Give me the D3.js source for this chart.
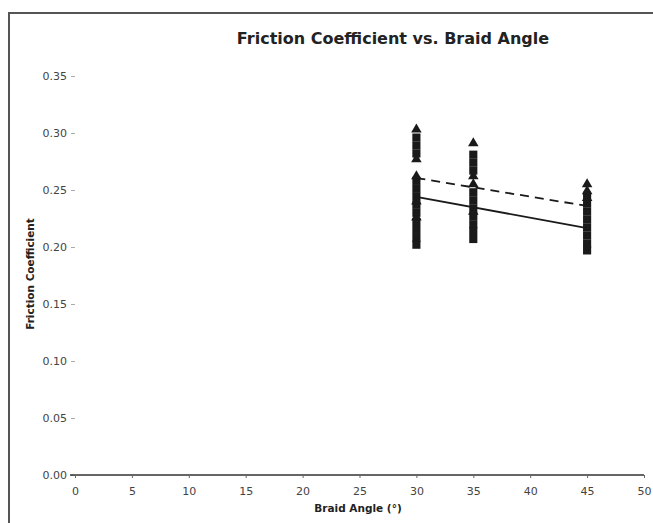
<!DOCTYPE html>
<html>
<head>
<meta charset="utf-8">
<script src="https://cdn.jsdelivr.net/npm/d3@7"></script>
<style>
  html, body { margin: 0; padding: 0; background: #fff; }
  svg { display: block; }
  text { font-family: "DejaVu Sans", Verdana, sans-serif; }
</style>
</head>
<body>
<svg id="chart" width="653" height="523"></svg>
<script>
// ---- data ----
const title = "Friction Coefficient vs. Braid Angle";
const xLabel = "Braid Angle (°)";
const yLabel = "Friction Coefficient";
const xTicks = [0, 5, 10, 15, 20, 25, 30, 35, 40, 45, 50];
const yTicks = [0.00, 0.05, 0.10, 0.15, 0.20, 0.25, 0.30, 0.35];

const angles = [30, 35, 45];
// series 1: squares (solid trendline)
const squareValues = [
  [0.296, 0.289, 0.282, 0.258, 0.251, 0.244, 0.237, 0.230, 0.222, 0.215, 0.208, 0.202],
  [0.281, 0.274, 0.267, 0.248, 0.241, 0.234, 0.227, 0.220, 0.214, 0.207],
  [0.245, 0.238, 0.231, 0.224, 0.217, 0.210, 0.203, 0.197]
];
// series 2: triangles (dashed trendline)
const triangleValues = [
  [0.303, 0.277, 0.262, 0.240, 0.226],
  [0.291, 0.262, 0.255, 0.231],
  [0.255, 0.249, 0.243]
];
// linear trendlines, values at x = 30 and x = 45
const trendX = [30, 45];
const trendSolid = [0.244, 0.2165];
const trendDashed = [0.2605, 0.236];

// ---- drawing ----
const svg = d3.select("#chart");

// outer frame
svg.append("rect")
  .attr("x", 9).attr("y", 13).attr("width", 660).attr("height", 530)
  .attr("fill", "#fff").attr("stroke", "#555").attr("stroke-width", 2);

const x = d3.scaleLinear().domain([0, 50]).range([75, 644]);
const y = d3.scaleLinear().domain([0, 0.35]).range([475, 76]);

// title
svg.append("text")
  .attr("x", 393).attr("y", 44)
  .attr("text-anchor", "middle")
  .attr("font-size", 16).attr("font-weight", "bold").attr("fill", "#222")
  .text(title);

// y axis (ticks + labels only)
const yAxis = svg.append("g")
  .attr("transform", `translate(${x(0)},0)`)
  .call(d3.axisLeft(y).tickValues(yTicks).tickFormat(d3.format(".2f")).tickSize(4).tickPadding(4));
yAxis.select(".domain").remove();
yAxis.selectAll(".tick line").attr("stroke", "#aaa");
yAxis.selectAll(".tick text").attr("font-size", 11).attr("fill", "#444")
  .attr("font-family", "DejaVu Sans, Verdana, sans-serif");

// x axis
const xAxis = svg.append("g")
  .attr("transform", `translate(0,${y(0)})`)
  .call(d3.axisBottom(x).tickValues(xTicks).tickFormat(d3.format("d")).tickSizeInner(3).tickSizeOuter(0).tickPadding(9));
xAxis.select(".domain").attr("stroke", "#333").attr("stroke-width", 1.3)
  .attr("d", `M${x(0) - 5},0H${x(50)}`);
xAxis.selectAll(".tick line").attr("stroke", "#666");
xAxis.selectAll(".tick text").attr("font-size", 11).attr("fill", "#444")
  .attr("font-family", "DejaVu Sans, Verdana, sans-serif");

// axis titles
svg.append("text")
  .attr("x", 358).attr("y", 512)
  .attr("text-anchor", "middle")
  .attr("font-size", 10.5).attr("font-weight", "bold").attr("fill", "#222")
  .text(xLabel);
svg.append("text")
  .attr("transform", `translate(34,${274}) rotate(-90)`)
  .attr("text-anchor", "middle")
  .attr("font-size", 10.5).attr("font-weight", "bold").attr("fill", "#222")
  .text(yLabel);

// points
const squares = [];
angles.forEach((a, i) => squareValues[i].forEach(v => squares.push({a, v})));
const triangles = [];
angles.forEach((a, i) => triangleValues[i].forEach(v => triangles.push({a, v})));

svg.append("g").selectAll("path")
  .data(squares).join("path")
  .attr("transform", d => `translate(${x(d.a)},${y(d.v)})`)
  .attr("d", d3.symbol(d3.symbolSquare, 66))
  .attr("fill", "#1a1a1a");

svg.append("g").selectAll("path")
  .data(triangles).join("path")
  .attr("transform", d => `translate(${x(d.a)},${y(d.v)})`)
  .attr("d", d3.symbol(d3.symbolTriangle, 48))
  .attr("fill", "#1a1a1a");

// trendlines
const line = d3.line().x(d => x(d[0])).y(d => y(d[1]));
svg.append("path")
  .attr("d", line(trendX.map((t, i) => [t, trendSolid[i]])))
  .attr("fill", "none").attr("stroke", "#1a1a1a").attr("stroke-width", 1.8);
svg.append("path")
  .attr("d", line(trendX.map((t, i) => [t, trendDashed[i]])))
  .attr("fill", "none").attr("stroke", "#1a1a1a").attr("stroke-width", 1.8)
  .attr("stroke-dasharray", "9,6");
</script>
</body>
</html>
